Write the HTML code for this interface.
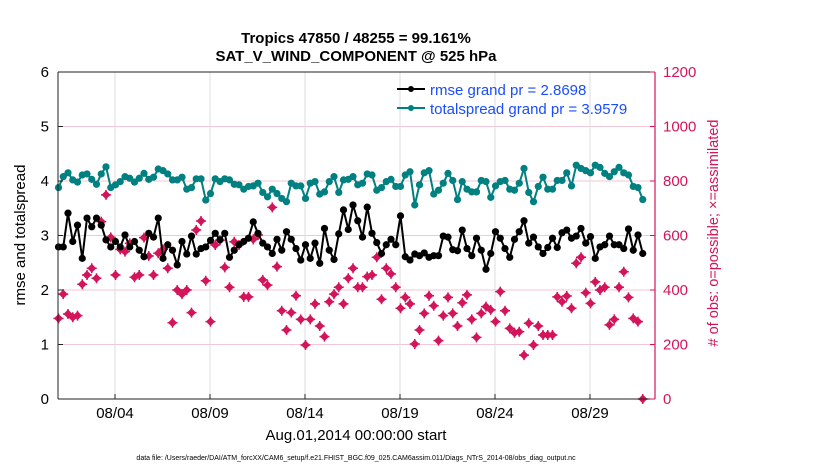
<!DOCTYPE html>
<html><head><meta charset="utf-8"><style>
body{margin:0;background:#fff;}
svg{display:block;font-family:"Liberation Sans",sans-serif;}
</style></head><body>
<svg id="chart" width="830" height="470" viewBox="0 0 830 470" xmlns="http://www.w3.org/2000/svg">
<rect x="0" y="0" width="830" height="470" fill="#fff"/>
<text x="356" y="43" text-anchor="middle" font-size="15" font-weight="bold">Tropics 47850 / 48255 = 99.161%</text>
<text x="356" y="61" text-anchor="middle" font-size="15" font-weight="bold">SAT_V_WIND_COMPONENT @ 525 hPa</text>
<g id="grid"></g>
<g id="series"></g>
<g id="axes"></g>
<text transform="translate(25,235) rotate(-90)" text-anchor="middle" font-size="15">rmse and totalspread</text>
<text transform="translate(718,233) rotate(-90)" text-anchor="middle" font-size="14.5" fill="#d4145a"># of obs: o=possible; ×=assimilated</text>
<text x="356" y="440" text-anchor="middle" font-size="15">Aug.01,2014 00:00:00 start</text>
<text x="356" y="460" text-anchor="middle" font-size="7">data file: /Users/raeder/DAI/ATM_forcXX/CAM6_setup/f.e21.FHIST_BGC.f09_025.CAM6assim.011/Diags_NTrS_2014-08/obs_diag_output.nc</text>
<g>
<line x1="397" y1="89" x2="425" y2="89" stroke="#000" stroke-width="2"/><circle cx="411" cy="89" r="3" fill="#000"/>
<text x="430" y="95" font-size="15" fill="#1a4dff">rmse grand pr = 2.8698</text>
<line x1="397" y1="108" x2="425" y2="108" stroke="#008080" stroke-width="2"/><circle cx="411" cy="108" r="3" fill="#008080"/>
<text x="430" y="114" font-size="15" fill="#1a4dff">totalspread grand pr = 3.9579</text>
</g>
</svg>
<script>
const rmse=[2.79,2.79,3.41,2.89,3.19,2.58,3.32,3.16,3.32,3.19,2.92,2.79,2.89,2.79,3.01,2.79,2.89,2.73,2.61,3.04,2.97,3.32,2.58,2.83,2.73,2.46,2.89,2.66,2.99,2.66,2.76,2.79,2.91,3.04,2.92,3.04,2.60,2.73,2.83,2.89,2.95,3.25,3.04,2.86,
2.79,2.67,2.93,2.73,3.07,2.93,2.76,2.55,2.83,2.58,2.86,2.49,3.13,2.73,2.56,3.03,3.47,3.11,3.56,3.27,2.97,3.52,3.04,2.87,2.67,2.83,2.93,2.83,3.36,2.61,2.55,2.66,2.63,2.68,2.60,2.63,2.63,2.99,2.97,2.74,2.72,
3.10,2.76,2.63,2.95,2.73,2.38,2.67,3.07,2.95,2.76,2.60,2.93,3.07,3.27,2.86,2.97,2.79,2.67,2.78,2.95,2.78,3.05,3.10,2.95,2.99,3.13,2.86,2.98,2.58,2.79,2.83,2.99,2.83,2.83,2.76,3.12,2.73,3.01,2.67];
const spread=[3.88,4.08,4.15,4.02,3.98,4.11,4.13,4.03,3.94,4.13,4.26,3.88,3.93,3.99,4.08,4.05,3.98,4.05,4.14,4.03,4.07,4.22,4.19,4.13,4.02,4.02,4.07,3.85,3.88,4.04,4.04,3.65,3.77,4.04,3.99,4.04,4.02,3.94,3.93,3.85,3.90,3.91,3.96,3.79,
3.71,3.85,3.77,3.68,3.62,3.96,3.91,3.91,3.68,3.96,3.99,3.76,3.80,3.99,4.08,3.79,4.02,4.03,4.08,3.93,3.96,4.13,4.11,3.83,3.88,3.99,4.03,3.90,3.90,4.11,4.17,3.56,3.93,4.15,4.19,3.76,3.83,3.96,4.14,4.01,3.66,
3.99,3.85,3.80,3.80,4.01,3.99,3.70,3.91,3.99,4.01,3.85,3.83,3.96,4.23,3.79,3.62,3.90,4.07,3.85,3.85,4.01,4.01,4.15,3.91,4.29,4.23,4.19,4.15,4.29,4.25,4.14,4.08,4.17,4.25,4.15,4.11,3.90,3.88,3.66];
const nobs=[296,385,312,300,306,421,455,480,443,651,749,593,455,549,541,571,447,455,592,525,455,535,549,480,280,400,385,400,317,620,653,434,284,565,583,483,410,577,565,375,375,586,602,437,
418,703,486,324,253,317,379,292,198,292,349,268,229,357,385,410,349,443,480,410,410,449,455,520,366,480,459,410,333,373,349,202,253,314,379,342,214,306,373,314,268,
353,382,292,226,314,339,327,284,394,324,259,243,247,161,278,198,268,235,235,235,375,357,378,333,498,520,390,351,430,400,410,272,292,410,467,373,296,284,0];
const xTickLabels=["08/04","08/09","08/14","08/19","08/24","08/29"];
const xTickDays=[3,8,13,18,23,28];
const yTicks=[0,1,2,3,4,5,6];
const y2Ticks=[0,200,400,600,800,1000,1200];

const NS="http://www.w3.org/2000/svg";
const X0=58,X1=655,Y0=399,Y1=72;
const PXDAY=19;
const xDay=d=>X0+d*PXDAY;
const xIdx=i=>xDay(i*0.25)+0.5;
const yL=v=>Y0-(v/6)*(Y0-Y1);
const yR=v=>Y0-(v/1200)*(Y0-Y1);
function mk(tag,attrs,parent){const e=document.createElementNS(NS,tag);for(const k in attrs)e.setAttribute(k,attrs[k]);parent.appendChild(e);return e;}
const grid=document.getElementById('grid'),ser=document.getElementById('series'),ax=document.getElementById('axes');

y2Ticks.forEach(v=>{if(v>0&&v<1200){const l=mk('line',{x1:X0,x2:X1,y1:yR(v),y2:yR(v),stroke:'#f5c6d6','stroke-width':1},grid);

}});
xTickDays.forEach(d=>{const l=mk('line',{x1:xDay(d),x2:xDay(d),y1:Y1,y2:Y0,stroke:'#dcdcdc','stroke-width':1},grid);

});

nobs.forEach((v,i)=>{const cx=xIdx(i),cy=yR(v);
const g=mk('g',{},ser);


mk('path',{d:`M${cx} ${cy-4.5}L${cx+4.5} ${cy}L${cx} ${cy+4.5}L${cx-4.5} ${cy}Z`,fill:'#d4145a'},g);
mk('path',{d:`M${cx-5} ${cy}H${cx+5}M${cx} ${cy-5}V${cy+5}`,stroke:'#d4145a','stroke-width':1.5},g);});

function line(arr,color,name){
const pts=arr.map((v,i)=>xIdx(i).toFixed(1)+','+yL(v).toFixed(1)).join(' ');
const p=mk('polyline',{points:pts,fill:'none',stroke:color,'stroke-width':2},ser);


arr.forEach((v,i)=>{const c=mk('circle',{cx:xIdx(i),cy:yL(v),r:3.6,fill:color},ser);

});}
line(spread,'#008080','totalspread');
line(rmse,'#000','rmse');

const a1=mk('line',{x1:X0,x2:X0,y1:Y1,y2:Y0,stroke:'#222','stroke-width':1},ax);


const a2=mk('line',{x1:X0,x2:X1,y1:Y0,y2:Y0,stroke:'#222','stroke-width':1},ax);


const a3=mk('line',{x1:X0,x2:X1,y1:Y1,y2:Y1,stroke:'#222','stroke-width':1},ax);


const a4=mk('line',{x1:X1,x2:X1,y1:Y1,y2:Y0,stroke:'#d4145a','stroke-width':1.2},ax);


yTicks.forEach(v=>{mk('line',{x1:X0,x2:X0+5,y1:yL(v),y2:yL(v),stroke:'#222'},ax);
const t=mk('text',{x:X0-9,y:yL(v)+5,'text-anchor':'end','font-size':15},ax);t.textContent=v;

});
y2Ticks.forEach(v=>{mk('line',{x1:X1-5,x2:X1,y1:yR(v),y2:yR(v),stroke:'#d4145a'},ax);
const t=mk('text',{x:X1+8,y:yR(v)+5,'font-size':15,fill:'#d4145a'},ax);t.textContent=v;

});
xTickDays.forEach((d,i)=>{mk('line',{x1:xDay(d),x2:xDay(d),y1:Y0,y2:Y0-5,stroke:'#222'},ax);
const t=mk('text',{x:xDay(d),y:418,'text-anchor':'middle','font-size':15},ax);t.textContent=xTickLabels[i];

});
</script>
</body></html>
